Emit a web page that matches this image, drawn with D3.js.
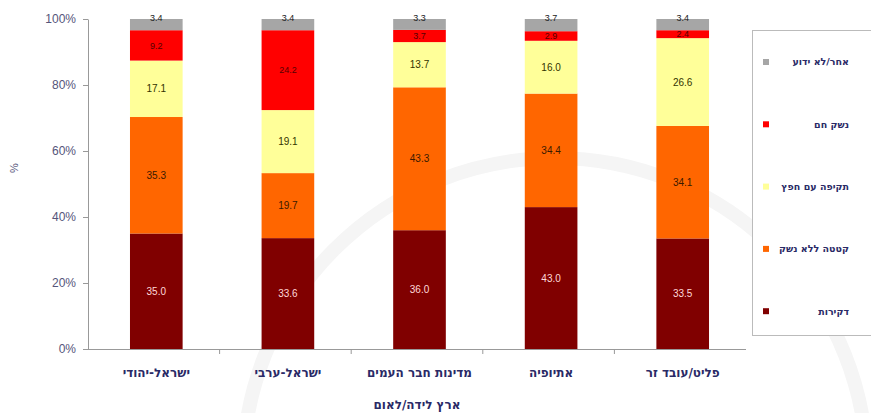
<!DOCTYPE html>
<html><head><meta charset="utf-8">
<script src="https://cdn.jsdelivr.net/npm/d3@7"></script>
<style>body{margin:0;background:#fff}svg{display:block}</style>
</head><body>
<svg id="c" width="871" height="413"></svg>
<script>
const categories = ["ישראל-יהודי","ישראל-ערבי","מדינות חבר העמים","אתיופיה","פליט/עובד זר"];
const seriesNames = ["דקירות","קטטה ללא נשק","תקיפה עם חפץ","נשק חם","אחר/לא ידוע"];
const stabbing = [35.0, 33.6, 36.0, 43.0, 33.5];
const brawl = [35.3, 19.7, 43.3, 34.4, 34.1];
const objectAttack = [17.1, 19.1, 13.7, 16.0, 26.6];
const firearm = [9.2, 24.2, 3.7, 2.9, 2.4];
const unknown = [3.4, 3.4, 3.3, 3.7, 3.4];
const yTicks = [0, 20, 40, 60, 80, 100];
const colors = ["#800000","#ff6600","#ffff99","#ff0000","#a6a6a6"];
const labelColors = ["#ffd9d9","#3a1a00","#333300","#550000","#222222"];

const svg = d3.select("#c");
// faint watermark arc
svg.append("circle").attr("cx",555).attr("cy",470).attr("r",312)
  .attr("fill","none").attr("stroke","#f5f5f5").attr("stroke-width",14);

const m = {l:88, r:746, t:19, b:349};
const x = d3.scaleBand().domain(categories).range([m.l+2.5, m.r+2.5]).paddingInner(0.6).paddingOuter(0.3);
const y = d3.scaleLinear().domain([0,100]).range([m.b, m.t]);

const series = [stabbing, brawl, objectAttack, firearm, unknown];
const rows = categories.map((c,i)=>{const o={cat:c}; seriesNames.forEach((s,j)=>o[s]=series[j][i]); return o;});
const stack = d3.stack().keys(seriesNames)(rows);

stack.forEach((layer,j)=>{
  const g = svg.append("g");
  g.selectAll("rect").data(layer).join("rect")
    .attr("x", d=>x(d.data.cat)).attr("width", x.bandwidth())
    .attr("y", d=>y(d[1])).attr("height", d=>y(d[0])-y(d[1]))
    .attr("fill", colors[j]);
  g.selectAll("text").data(layer).join("text")
    .attr("x", d=>x(d.data.cat)+x.bandwidth()/2)
    .attr("y", d=> j===4 ? y(d[1])+2 : (y(d[0])+y(d[1]))/2)
    .attr("dy", j===4 ? "0" : "0.35em")
    .attr("text-anchor","middle")
    .attr("font-family","Liberation Sans, Arial, sans-serif")
    .attr("font-size", j>=3 ? 9 : 10)
    .attr("fill", labelColors[j])
    .text(d=>(d[1]-d[0]).toFixed(1));
});

// y axis
const ya = svg.append("g").attr("transform",`translate(${m.l},0)`)
  .call(d3.axisLeft(y).tickValues(yTicks).tickFormat(d=>d+"%").tickSize(5).tickSizeOuter(0));
ya.select(".domain").attr("stroke","#999");
ya.selectAll(".tick line").attr("stroke","#999");
ya.selectAll("text").attr("font-family","Liberation Sans, Arial, sans-serif").attr("font-size",12).attr("fill","#55557a").attr("dx","-4");

// x axis line and boundary ticks
const bw = (m.r-m.l)/categories.length;
svg.append("line").attr("x1",m.l).attr("x2",m.r).attr("y1",m.b+0.5).attr("y2",m.b+0.5).attr("stroke","#999");
svg.append("g").selectAll("line").data(d3.range(1,categories.length)).join("line")
  .attr("x1",i=>m.l+i*bw).attr("x2",i=>m.l+i*bw).attr("y1",m.b).attr("y2",m.b+5).attr("stroke","#999");
svg.append("g").selectAll("text").data(categories).join("text")
  .attr("x", d=>x(d)+x.bandwidth()/2).attr("y",377)
  .attr("text-anchor","middle").attr("font-family","DejaVu Sans, sans-serif")
  .attr("font-weight","bold").attr("font-size",12).attr("fill","#2a2a66")
  .text(d=>d);

// axis titles
svg.append("text").attr("x",417).attr("y",409).attr("text-anchor","middle")
  .attr("font-family","DejaVu Sans, sans-serif").attr("font-weight","bold").attr("font-size",12).attr("fill","#2a2a66")
  .text("ארץ לידה/לאום");
svg.append("text").attr("transform","translate(18,168) rotate(-90)").attr("text-anchor","middle")
  .attr("font-family","Liberation Sans, Arial, sans-serif").attr("font-size",11).attr("fill","#55557a").text("%");

// legend
svg.append("rect").attr("x",752.5).attr("y",30.5).attr("width",130).attr("height",305)
  .attr("fill","#fff").attr("stroke","#bbb");
const legendOrder = [4,3,2,1,0];
const lg = svg.append("g").selectAll("g").data(legendOrder).join("g")
  .attr("transform",(d,i)=>`translate(0,${62+i*62.3})`);
lg.append("rect").attr("x",763).attr("y",-3).attr("width",6).attr("height",6).attr("fill",d=>colors[d]);
lg.append("text").attr("x",849).attr("y",0).attr("dy","0.35em").attr("text-anchor","end")
  .attr("font-family","DejaVu Sans, sans-serif").attr("font-weight","bold").attr("font-size",9.5).attr("fill","#2a2a66")
  .text(d=>seriesNames[d]);
</script>
</body></html>
